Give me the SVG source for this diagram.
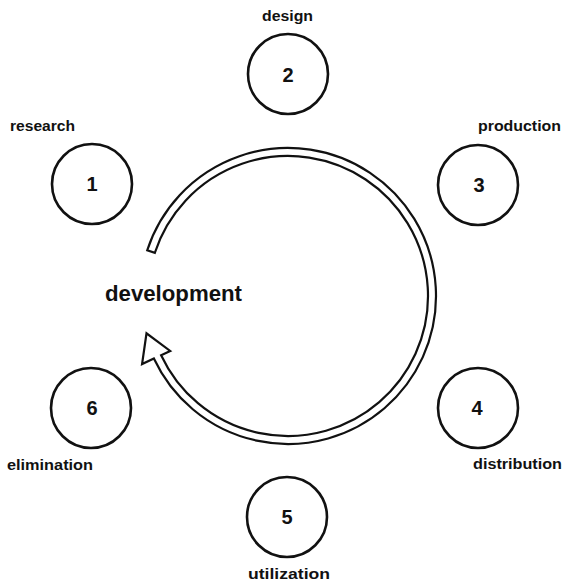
<svg xmlns="http://www.w3.org/2000/svg" width="564" height="584" viewBox="0 0 564 584">
<style>
.node circle{fill:#fff;stroke:#111;stroke-width:2.6}
.num{font-family:"Liberation Sans",Arial,sans-serif;font-weight:bold;font-size:20px;fill:#111;text-anchor:middle}
.lbl{font-family:"Liberation Sans",Arial,sans-serif;font-weight:bold;font-size:14px;fill:#111}
.title{font-family:"Liberation Sans",Arial,sans-serif;font-weight:bold;font-size:22px;fill:#111}
.ring{fill:#fff;stroke:#111;stroke-width:2.2;stroke-linejoin:miter}
</style>
<rect width="564" height="584" fill="#fff"/>
<g id="connectors">
<path class="ring" d="M147.24,250.27 A148,148 0 1 1 153.87,358.55 L142.08,364.04 L146.5,333.3 L170.18,350.94 L161.12,355.17 A140,140 0 1 0 154.85,252.74 Z"/>
</g>
<g id="center">
<text class="title" x="105" y="301" textLength="137" lengthAdjust="spacingAndGlyphs">development</text>
</g>
<g id="n1" class="node">
<circle cx="92" cy="184" r="40"/>
<text class="num" x="92" y="191">1</text>
<text class="lbl" x="10" y="131" textLength="65" lengthAdjust="spacingAndGlyphs">research</text>
</g>
<g id="n2" class="node">
<circle cx="288" cy="74" r="40"/>
<text class="num" x="288" y="82">2</text>
<text class="lbl" x="262" y="21" textLength="51" lengthAdjust="spacingAndGlyphs">design</text>
</g>
<g id="n3" class="node">
<circle cx="478" cy="185" r="40"/>
<text class="num" x="479" y="192">3</text>
<text class="lbl" x="478" y="131" textLength="83" lengthAdjust="spacingAndGlyphs">production</text>
</g>
<g id="n4" class="node">
<circle cx="478" cy="408" r="40"/>
<text class="num" x="477" y="415">4</text>
<text class="lbl" x="473" y="469" textLength="89" lengthAdjust="spacingAndGlyphs">distribution</text>
</g>
<g id="n5" class="node">
<circle cx="287" cy="517" r="40"/>
<text class="num" x="287" y="524">5</text>
<text class="lbl" x="248" y="579" textLength="82" lengthAdjust="spacingAndGlyphs">utilization</text>
</g>
<g id="n6" class="node">
<circle cx="91" cy="408" r="40"/>
<text class="num" x="92" y="415">6</text>
<text class="lbl" x="7" y="470" textLength="86" lengthAdjust="spacingAndGlyphs">elimination</text>
</g>
</svg>
